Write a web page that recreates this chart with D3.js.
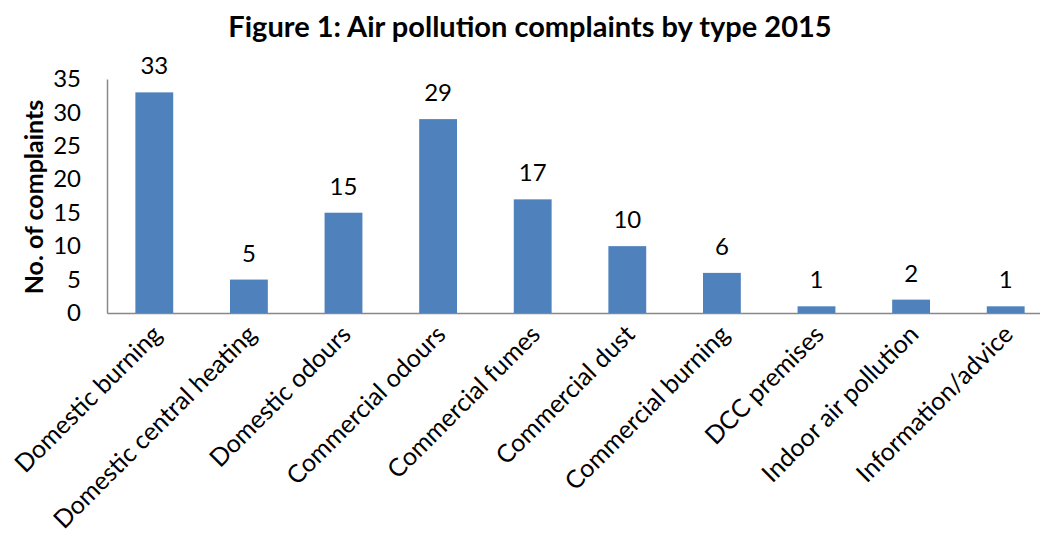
<!DOCTYPE html>
<html lang="en">
<head>
<meta charset="utf-8">
<title>Air pollution complaints</title>
<script src="https://cdn.jsdelivr.net/npm/d3@7"></script>
<style>
body { margin: 0; background: #fff; }
svg text { font-family: Lato, "Open Sans", sans-serif; fill: #000; }
</style>
</head>
<body>
<script>
// complaint types and counts
var categories = ["Domestic burning", "Domestic central heating", "Domestic odours",
    "Commercial odours", "Commercial fumes", "Commercial dust", "Commercial burning",
    "DCC premises", "Indoor air pollution", "Information/advice"];
var complaints = [33, 5, 15, 29, 17, 10, 6, 1, 2, 1];
var yTicks = [0, 5, 10, 15, 20, 25, 30, 35];

var width = 1040, height = 535;

var svg = d3.select("body").append("svg")
    .attr("width", width)
    .attr("height", height);

// scales (plot runs off the right edge like the original)
var x = d3.scaleBand()
    .domain(categories)
    .range([107, 1053])
    .paddingInner(0.6)
    .paddingOuter(0.3);

var y = d3.scaleLinear()
    .domain([0, 35])
    .range([313, 79]);

// title
svg.append("text")
    .attr("x", 530)
    .attr("y", 37)
    .attr("text-anchor", "middle")
    .attr("font-size", "29px")
    .attr("font-weight", "bold")
    .text("Figure 1: Air pollution complaints by type 2015");

// y axis
var yAxis = d3.axisLeft(y).tickValues(yTicks).tickSize(0).tickPadding(26);
var gy = svg.append("g")
    .attr("transform", "translate(107,0)")
    .call(yAxis);
gy.select(".domain").attr("stroke", "#888").attr("stroke-width", 1.5);
gy.selectAll("text").attr("font-size", "24px").attr("font-family", "Lato, sans-serif");

// x axis
var xAxis = d3.axisBottom(x).tickSize(0).tickFormat("");
var gx = svg.append("g")
    .attr("transform", "translate(0,313)")
    .call(xAxis);
gx.select(".domain").attr("stroke", "#888").attr("stroke-width", 1.5);

// bars
svg.selectAll("rect.bar")
    .data(complaints)
    .enter()
    .append("rect")
    .attr("class", "bar")
    .attr("x", function(d, i) { return x(categories[i]); })
    .attr("y", function(d) { return y(d); })
    .attr("width", x.bandwidth())
    .attr("height", function(d) { return y(0) - y(d); })
    .attr("fill", "#4f81bd");

// value labels
svg.selectAll("text.val")
    .data(complaints)
    .enter()
    .append("text")
    .attr("class", "val")
    .attr("x", function(d, i) { return x(categories[i]) + x.bandwidth() / 2; })
    .attr("y", function(d) { return y(d) - 18; })
    .attr("text-anchor", "middle")
    .attr("font-size", "24px")
    .text(function(d) { return d; });

// rotated category labels
svg.selectAll("text.cat")
    .data(categories)
    .enter()
    .append("text")
    .attr("class", "cat")
    .attr("text-anchor", "end")
    .attr("font-size", "25px")
    .attr("transform", function(d) {
        var cx = x(d) + x.bandwidth() / 2 + 9;
        return "translate(" + cx + ",336) rotate(-45)";
    })
    .text(function(d) { return d; });

// y axis title
svg.append("text")
    .attr("transform", "translate(43,197) rotate(-90)")
    .attr("text-anchor", "middle")
    .attr("font-size", "25px")
    .attr("font-weight", "bold")
    .text("No. of complaints");
</script>
</body>
</html>
